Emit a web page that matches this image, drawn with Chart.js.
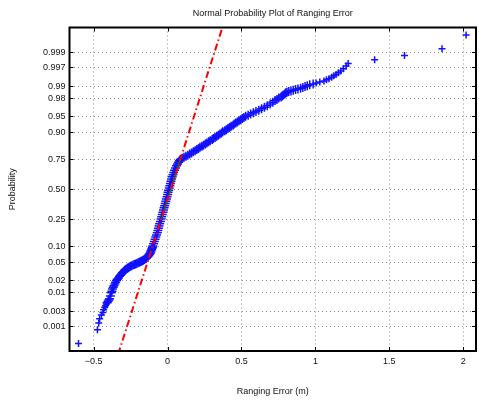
<!DOCTYPE html>
<html>
<head>
<meta charset="utf-8">
<title>Normal Probability Plot of Ranging Error</title>
<script src="https://cdn.jsdelivr.net/npm/chart.js@4.4.0/dist/chart.umd.min.js"></script>
<style>
  html, body { margin: 0; padding: 0; background: #fff; overflow: hidden; }
  canvas { display: block; }
</style>
</head>
<body>
<canvas id="normplot" width="482" height="400"></canvas>
<script>
// ---- data: sorted ranging errors (m) with their normal scores (plot position) ----
// sparse lower tail
const lowTailErr = [-0.603, -0.475, -0.466, -0.460, -0.448, -0.438, -0.433, -0.426, -0.420, -0.415];
const lowTailZ = [-3.48, -3.17, -3.02, -2.92, -2.84, -2.78, -2.72, -2.67, -2.63, -2.59];

// dense middle of the sample
const bodyErr = [
  -0.409, -0.403, -0.398, -0.393, -0.387, -0.381, -0.377, -0.373, -0.368, -0.363, -0.357, -0.352, -0.346,
  -0.340, -0.333, -0.326, -0.319, -0.312, -0.306, -0.299, -0.292, -0.286,
  -0.279, -0.272, -0.266, -0.259, -0.251, -0.243, -0.234, -0.225, -0.217, -0.208, -0.200, -0.192, -0.185,
  -0.178, -0.171, -0.165, -0.158, -0.151, -0.145, -0.139, -0.133, -0.128, -0.124, -0.121, -0.118, -0.115,
  -0.112, -0.108, -0.105, -0.102, -0.100,
  -0.095, -0.090, -0.085, -0.080, -0.075, -0.070, -0.066, -0.062, -0.058, -0.054, -0.049, -0.044, -0.040,
  -0.036, -0.032, -0.028, -0.024, -0.020, -0.016, -0.012, -0.008, -0.004, 0.000, 0.003, 0.007, 0.011,
  0.015, 0.019, 0.023, 0.027, 0.031, 0.036, 0.041, 0.047, 0.053, 0.060, 0.067, 0.074, 0.080, 0.086,
  0.092, 0.100, 0.111, 0.124, 0.137, 0.150, 0.162, 0.174, 0.186, 0.198, 0.209, 0.219, 0.232, 0.243,
  0.255, 0.266, 0.277, 0.288, 0.302, 0.310, 0.321, 0.332, 0.343, 0.354, 0.365, 0.373, 0.387, 0.398,
  0.408, 0.419, 0.430, 0.443, 0.450, 0.461, 0.472, 0.483, 0.494, 0.505, 0.516,
  0.528, 0.545, 0.562, 0.580, 0.598, 0.617, 0.636, 0.655, 0.674, 0.694, 0.712, 0.727,
  0.740, 0.752, 0.768, 0.776, 0.784, 0.792, 0.800, 0.808, 0.820, 0.835, 0.850, 0.866, 0.882, 0.900,
  0.915, 0.930, 0.945, 0.962, 0.985];
const bodyZ = [
  -2.56, -2.53, -2.50, -2.47, -2.41, -2.335, -2.30, -2.25, -2.21, -2.175, -2.14, -2.10, -2.06,
  -2.03, -2.00, -1.963, -1.94, -1.91, -1.884, -1.86, -1.835, -1.814,
  -1.80, -1.785, -1.77, -1.753, -1.74, -1.727, -1.712, -1.698, -1.686, -1.673, -1.66, -1.647, -1.635,
  -1.623, -1.611, -1.60, -1.585, -1.571, -1.557, -1.537, -1.517, -1.497, -1.47, -1.455, -1.442, -1.415,
  -1.387, -1.358, -1.333, -1.308, -1.283,
  -1.23, -1.18, -1.13, -1.08, -1.03, -0.98, -0.93, -0.88, -0.83, -0.78, -0.73, -0.674, -0.62,
  -0.57, -0.52, -0.47, -0.42, -0.37, -0.32, -0.27, -0.22, -0.17, -0.12, -0.07, -0.02, 0.03,
  0.08, 0.13, 0.18, 0.23, 0.28, 0.33, 0.38, 0.43, 0.48, 0.53, 0.57, 0.61, 0.645, 0.674,
  0.685, 0.70, 0.72, 0.745, 0.77, 0.795, 0.82, 0.845, 0.87, 0.895, 0.92, 0.945, 0.97, 0.995,
  1.02, 1.045, 1.07, 1.095, 1.12, 1.145, 1.17, 1.195, 1.22, 1.245, 1.27, 1.295, 1.32, 1.345,
  1.37, 1.395, 1.42, 1.445, 1.47, 1.495, 1.52, 1.545, 1.57, 1.595, 1.62,
  1.647, 1.672, 1.698, 1.725, 1.754, 1.783, 1.815, 1.849, 1.885, 1.923, 1.964, 2.00,
  2.028, 2.058, 2.08, 2.102, 2.126, 2.151, 2.177, 2.19, 2.204, 2.219, 2.234, 2.249, 2.265, 2.281,
  2.298, 2.317, 2.336, 2.356, 2.376];

// sparse upper tail
const highTailErr = [1.005, 1.030, 1.058, 1.075, 1.092, 1.110, 1.125, 1.140, 1.156,
  1.172, 1.190, 1.208, 1.222, 1.401, 1.603, 1.857, 2.020];
const highTailZ = [2.398, 2.42, 2.445, 2.47, 2.496, 2.53, 2.56, 2.59, 2.63,
  2.67, 2.72, 2.78, 2.84, 2.92, 3.02, 3.17, 3.48];

// first and third quartile of the errors, used for the reference line
const quartileErr = [-0.043, 0.086];
const quartileProb = [0.25, 0.75];

// axis ticks
const probTicks = [0.001, 0.003, 0.01, 0.02, 0.05, 0.10, 0.25, 0.50, 0.75, 0.90, 0.95, 0.98, 0.99, 0.997, 0.999];
const probLabels = ['0.001', '0.003', '0.01', '0.02', '0.05', '0.10', '0.25', '0.50', '0.75', '0.90', '0.95', '0.98', '0.99', '0.997', '0.999'];
const errTicks = [-0.5, 0, 0.5, 1, 1.5, 2];
const errLabels = ['\u22120.5', '0', '0.5', '1', '1.5', '2'];

const FONT = '"Liberation Sans", Arial, Helvetica, sans-serif';

// inverse normal cdf (Acklam) – the y axis is linear in normal score
function norminv(p) {
    const a = [-39.69683028665376, 220.9460984245205, -275.9285104469687, 138.3577518672690, -30.66479806614716, 2.506628277459239];
    const b = [-54.47609879822406, 161.5858368580409, -155.6989798598866, 66.80131188771972, -13.28068155288572];
    const c = [-0.007784894002430293, -0.3223964580411365, -2.400758277161838, -2.549732539343734, 4.374664141464968, 2.938163982698783];
    const d = [0.007784695709041462, 0.3224671290700398, 2.445134137142996, 3.754408661907416];
    const pl = 0.02425;
    if (p < pl) {
        const q = Math.sqrt(-2 * Math.log(p));
        return (((((c[0]*q+c[1])*q+c[2])*q+c[3])*q+c[4])*q+c[5]) / ((((d[0]*q+d[1])*q+d[2])*q+d[3])*q+1);
    }
    if (p > 1 - pl) {
        const q = Math.sqrt(-2 * Math.log(1 - p));
        return -(((((c[0]*q+c[1])*q+c[2])*q+c[3])*q+c[4])*q+c[5]) / ((((d[0]*q+d[1])*q+d[2])*q+d[3])*q+1);
    }
    const q = p - 0.5, r = q * q;
    return (((((a[0]*r+a[1])*r+a[2])*r+a[3])*r+a[4])*r+a[5])*q / (((((b[0]*r+b[1])*r+b[2])*r+b[3])*r+b[4])*r+1);
}

function toPoints(xs, zs) {
    return xs.map((v, i) => ({ x: v, y: zs[i] }));
}

const tailPoints = [...toPoints(lowTailErr, lowTailZ), ...toPoints(highTailErr, highTailZ)];
const bodyPoints = toPoints(bodyErr, bodyZ);

// quartile line (solid) and its extension over the data range (dash-dot)
const zq1 = norminv(quartileProb[0]), zq3 = norminv(quartileProb[1]);
const slope = (zq3 - zq1) / (quartileErr[1] - quartileErr[0]);
const errMin = Math.min(...lowTailErr), errMax = Math.max(...highTailErr);
const fitLine = [
    { x: errMin, y: zq1 + slope * (errMin - quartileErr[0]) },
    { x: errMax, y: zq1 + slope * (errMax - quartileErr[0]) }
];
const quartileLine = [{ x: quartileErr[0], y: zq1 }, { x: quartileErr[1], y: zq3 }];

// MATLAB-like box: frame, inward ticks and the text around the axes
const boxPlugin = {
    id: 'box',
    afterDraw(chart) {
        const { ctx, chartArea: a, scales: { x, y } } = chart;
        ctx.save();
        ctx.strokeStyle = '#000';
        ctx.lineWidth = 1;
        ctx.beginPath();
        for (const t of x.ticks) {
            const px = Math.round(x.getPixelForValue(t.value)) + 0.5;
            ctx.moveTo(px, a.bottom); ctx.lineTo(px, a.bottom - 4);
            ctx.moveTo(px, a.top); ctx.lineTo(px, a.top + 4);
        }
        for (const t of y.ticks) {
            const py = Math.round(y.getPixelForValue(t.value)) + 0.5;
            ctx.moveTo(a.left, py); ctx.lineTo(a.left + 4, py);
            ctx.moveTo(a.right, py); ctx.lineTo(a.right - 4, py);
        }
        ctx.stroke();
        ctx.lineWidth = 2;
        ctx.strokeRect(a.left, a.top, a.right - a.left, a.bottom - a.top);

        ctx.fillStyle = '#111';
        ctx.font = '9px ' + FONT;
        ctx.textAlign = 'center';
        ctx.textBaseline = 'middle';
        const cx = (a.left + a.right) / 2;
        ctx.fillText('Normal Probability Plot of Ranging Error', cx, 13.5);
        ctx.fillText('Ranging Error (m)', cx, 391.5);
        ctx.translate(12.5, (a.top + a.bottom) / 2);
        ctx.rotate(-Math.PI / 2);
        ctx.fillText('Probability', 0, 0);
        ctx.restore();
    }
};

const gridStyle = { color: 'rgba(0,0,0,0.45)', lineWidth: 1, drawTicks: false };
const tickFont = { family: FONT, size: 9 };
const BLUE = '#1010ff';

new Chart(document.getElementById('normplot'), {
    type: 'scatter',
    data: {
        datasets: [
            { data: fitLine, type: 'line', showLine: true, borderColor: '#ff0000', borderWidth: 2,
              borderDash: [7, 3, 1.5, 3], pointRadius: 0, fill: false, order: 0 },
            { data: quartileLine, type: 'line', showLine: true, borderColor: '#008000', borderWidth: 1.5,
              pointRadius: 0, fill: false, order: 1 },
            { data: tailPoints, pointStyle: 'cross', pointRadius: 3.5, borderWidth: 1.5,
              borderColor: BLUE, backgroundColor: BLUE, order: 2 },
            // crosses overlap heavily in the dense part, which reads as a thick band
            { data: bodyPoints, pointStyle: 'cross', pointRadius: 4.5, borderWidth: 1.5,
              borderColor: BLUE, backgroundColor: BLUE, order: 3 }
        ]
    },
    options: {
        responsive: false,
        animation: false,
        layout: { padding: { top: 27.5, right: 2, left: 0, bottom: 0 } },
        plugins: { legend: { display: false }, tooltip: { enabled: false } },
        scales: {
            x: {
                type: 'linear', min: -0.664, max: 2.087,
                afterBuildTicks: s => { s.ticks = errTicks.map(v => ({ value: v })); },
                afterFit: s => { s.height = 49; },
                ticks: { callback: (v, i) => errLabels[i], autoSkip: false, maxRotation: 0, padding: 5, color: '#111', font: tickFont },
                grid: gridStyle,
                border: { display: false, dash: [1, 3] }
            },
            y: {
                type: 'linear', min: -3.65, max: 3.65,
                afterBuildTicks: s => { s.ticks = probTicks.map(p => ({ value: norminv(p) })); },
                afterFit: s => { s.width = 69.5; },
                ticks: { callback: (v, i) => probLabels[i], autoSkip: false, padding: 4, color: '#111', font: tickFont },
                grid: gridStyle,
                border: { display: false, dash: [1, 3] }
            }
        }
    },
    plugins: [boxPlugin]
});
</script>
</body>
</html>
